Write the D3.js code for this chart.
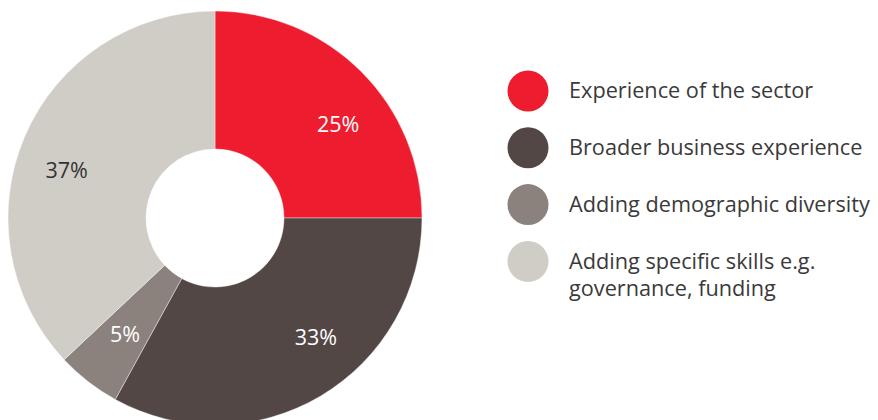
<!DOCTYPE html>
<html>
<head>
<meta charset="utf-8">
<script src="https://cdn.jsdelivr.net/npm/d3@7/dist/d3.min.js"></script>
<style>
  html, body { margin: 0; padding: 0; background: #fff; }
  svg { display: block; }
</style>
</head>
<body>
<svg id="chart" width="878" height="420"></svg>
<script>
// Share of board recruitment priorities
const categories = [
  "Experience of the sector",
  "Broader business experience",
  "Adding demographic diversity",
  "Adding specific skills e.g. governance, funding"
];
const legendLines = [
  ["Experience of the sector"],
  ["Broader business experience"],
  ["Adding demographic diversity"],
  ["Adding specific skills e.g.", "governance, funding"]
];
const values = [25, 33, 5, 37];
const colors = ["#ED1C2E", "#534745", "#8B827E", "#D0CDC7"];
const labelColors = ["#ffffff", "#ffffff", "#ffffff", "#333333"];
// small angular nudges (degrees) and radii for the percentage labels
const labelNudge = [7.6, -9.7, 0, -5.4];
const labelRadius = [155, 156, 147, 156];

const svg = d3.select("#chart");
const font = "'Open Sans', 'Noto Sans', sans-serif";

const cx = 215, cy = 218, outerR = 207, innerR = 69;

const pie = d3.pie().sort(null).value(d => d);
const arcs = pie(values);
const arc = d3.arc().innerRadius(innerR).outerRadius(outerR);

const g = svg.append("g").attr("transform", `translate(${cx},${cy})`);

g.selectAll("path.slice")
  .data(arcs)
  .join("path")
  .attr("class", "slice")
  .attr("d", arc)
  .attr("fill", (d, i) => colors[i])
  .attr("stroke", "#fff")
  .attr("stroke-width", 0.4);

g.selectAll("text.pct")
  .data(arcs)
  .join("text")
  .attr("class", "pct")
  .attr("x", (d, i) => {
    const a = (d.startAngle + d.endAngle) / 2 + labelNudge[i] * Math.PI / 180;
    return Math.sin(a) * labelRadius[i];
  })
  .attr("y", (d, i) => {
    const a = (d.startAngle + d.endAngle) / 2 + labelNudge[i] * Math.PI / 180;
    return -Math.cos(a) * labelRadius[i];
  })
  .attr("dy", "0.36em")
  .attr("text-anchor", "middle")
  .attr("font-family", font)
  .attr("font-size", 21.5)
  .attr("fill", (d, i) => labelColors[i])
  .text(d => d.data + "%");

// Legend
const legend = svg.append("g").attr("transform", "translate(528,91)");
const step = 56.8;
const items = legend.selectAll("g.item")
  .data(categories)
  .join("g")
  .attr("class", "item")
  .attr("transform", (d, i) => `translate(0,${i * step})`);

items.append("circle")
  .attr("r", 20.5)
  .attr("fill", (d, i) => colors[i]);

items.each(function (d, i) {
  const t = d3.select(this).append("text")
    .attr("x", 41)
    .attr("y", 0)
    .attr("font-family", font)
    .attr("font-size", 21.7)
    .attr("fill", "#3a3a3a");
  legendLines[i].forEach((line, j) => {
    t.append("tspan")
      .attr("x", 41)
      .attr("dy", j === 0 ? "0.33em" : 27)
      .text(line);
  });
});
</script>
</body>
</html>
